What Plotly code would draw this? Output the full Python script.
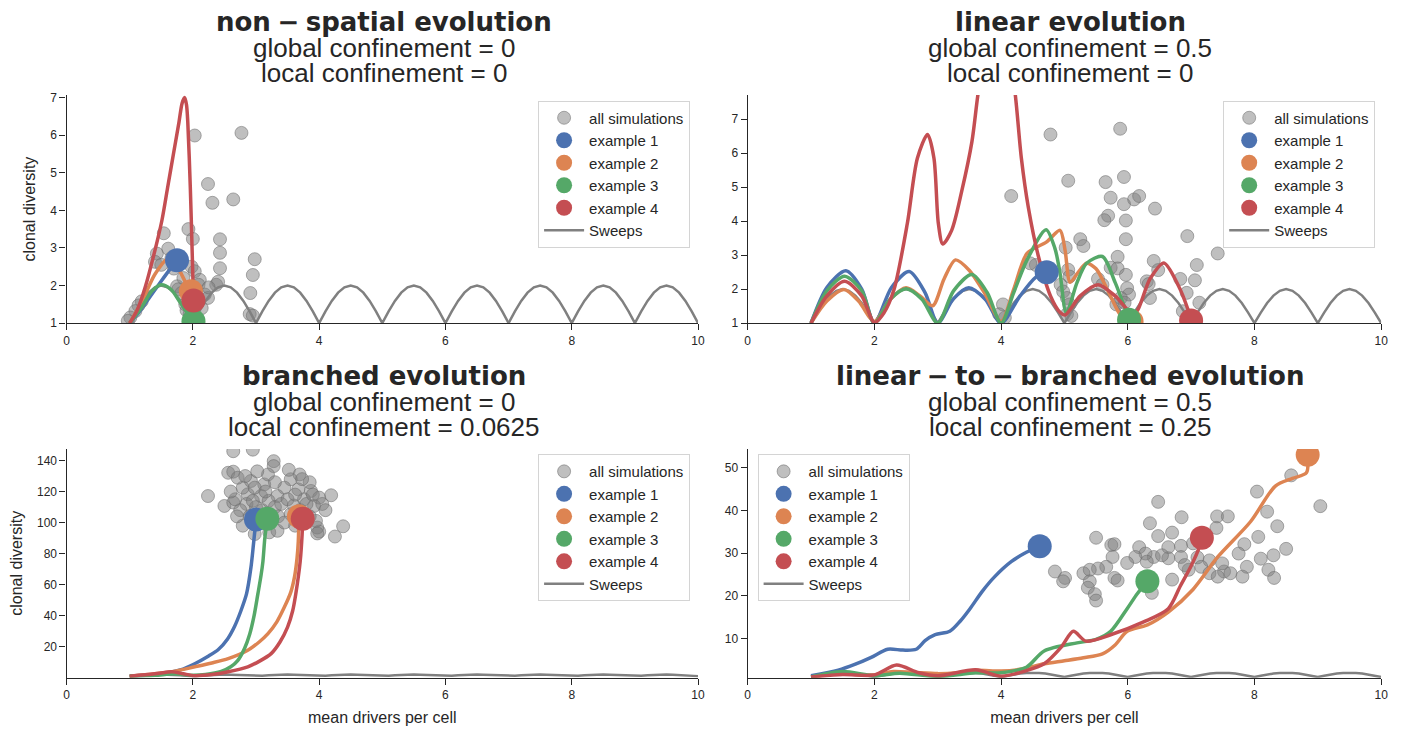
import plotly.graph_objects as go
from plotly.subplots import make_subplots

# ---------------- data ----------------
sweep_x = [1.0 + i * 0.1 for i in range(91)]
sweep_y = [
    1.00, 1.31, 1.59, 1.81, 1.95, 2.00, 1.95, 1.81, 1.59, 1.31,
    1.00, 1.31, 1.59, 1.81, 1.95, 2.00, 1.95, 1.81, 1.59, 1.31,
    1.00, 1.31, 1.59, 1.81, 1.95, 2.00, 1.95, 1.81, 1.59, 1.31,
    1.00, 1.31, 1.59, 1.81, 1.95, 2.00, 1.95, 1.81, 1.59, 1.31,
    1.00, 1.31, 1.59, 1.81, 1.95, 2.00, 1.95, 1.81, 1.59, 1.31,
    1.00, 1.31, 1.59, 1.81, 1.95, 2.00, 1.95, 1.81, 1.59, 1.31,
    1.00, 1.31, 1.59, 1.81, 1.95, 2.00, 1.95, 1.81, 1.59, 1.31,
    1.00, 1.31, 1.59, 1.81, 1.95, 2.00, 1.95, 1.81, 1.59, 1.31,
    1.00, 1.31, 1.59, 1.81, 1.95, 2.00, 1.95, 1.81, 1.59, 1.31,
    1.00,
]

SP = "\u2005"
titles = ["non" + SP + "−" + SP + "spatial evolution", "linear evolution",
          "branched evolution", "linear" + SP + "−" + SP + "to" + SP + "−" + SP + "branched evolution"]
global_conf = ["0", "0.5", "0", "0.5"]
local_conf = ["0", "0", "0.0625", "0.25"]

# --- panel 1: non-spatial ---
p1_sim_x = [2.03, 2.77, 2.24, 2.31, 2.64, 1.54, 1.93, 2.00, 2.43, 2.43, 2.43, 2.98, 2.95, 2.91, 2.90,
            2.95, 1.43, 1.40, 1.61, 1.66, 1.98, 2.03, 2.11, 2.09, 2.19, 2.24, 2.37, 2.40, 1.75, 1.77,
            1.82, 1.88, 1.90, 1.19, 1.14, 1.09, 1.01, 0.97, 2.14, 2.09, 1.95, 2.00, 1.50, 1.85, 2.25, 1.70]
p1_sim_y = [5.99, 6.06, 4.70, 4.20, 4.29, 3.39, 3.50, 3.24, 3.23, 2.87, 2.46, 2.70, 2.28, 1.80, 1.24,
            1.20, 2.85, 2.63, 2.98, 2.73, 2.50, 2.38, 2.15, 2.02, 1.76, 1.67, 2.02, 2.10, 1.98, 1.90,
            1.80, 1.50, 1.34, 1.58, 1.47, 1.32, 1.15, 1.06, 1.40, 1.58, 1.25, 1.10, 2.55, 2.20, 1.95, 2.45]
p1_ex1_x = [1.0, 1.15, 1.3, 1.45, 1.6, 1.75]
p1_ex1_y = [1.0, 1.3, 1.65, 2.0, 2.35, 2.67]
p1_ex2_x = [1.0, 1.2, 1.4, 1.6, 1.75, 1.88, 1.97]
p1_ex2_y = [1.0, 1.6, 2.3, 2.7, 2.5, 2.1, 1.85]
p1_ex3_x = [1.0, 1.2, 1.35, 1.5, 1.65, 1.8, 1.92, 2.01]
p1_ex3_y = [1.0, 1.45, 1.85, 2.02, 1.9, 1.55, 1.25, 1.05]
p1_ex4_x = [1.0, 1.12, 1.25, 1.38, 1.51, 1.6, 1.69, 1.78, 1.83, 1.87, 1.9, 1.92, 1.96, 1.99, 2.01]
p1_ex4_y = [1.0, 1.35, 1.98, 2.8, 3.73, 4.6, 5.47, 6.34, 6.85, 7.0, 6.8, 6.34, 4.6, 2.86, 1.6]

# --- panel 2: linear ---
p2_sim_x = [4.78, 5.88, 4.16, 5.06, 5.65, 5.94, 5.73, 6.10, 6.18, 5.94, 6.43, 5.69, 5.63, 5.97, 5.97,
            6.94, 7.42, 5.25, 5.30, 5.02, 5.84, 6.41, 7.09, 5.73, 5.84, 6.48, 5.97, 7.06, 6.83, 6.30,
            6.33, 5.53, 5.60, 4.55, 4.46, 5.06, 5.08, 5.99, 6.02, 6.93, 7.13, 5.82, 6.35, 4.94, 4.98,
            5.04, 5.08, 5.04, 5.11, 4.03, 4.06, 3.97, 6.87, 5.89, 5.95]
p2_sim_y = [6.55, 6.72, 4.74, 5.19, 5.15, 5.30, 4.69, 4.64, 4.74, 4.50, 4.37, 4.16, 4.03, 4.02, 3.47,
            3.56, 3.05, 3.47, 3.27, 3.22, 2.95, 2.83, 2.71, 2.63, 2.61, 2.56, 2.42, 2.26, 2.30, 2.23,
            2.15, 2.30, 2.13, 2.71, 2.76, 2.57, 2.37, 2.03, 1.84, 1.89, 1.60, 1.55, 1.74, 2.13, 1.93,
            1.74, 1.55, 1.26, 1.21, 1.55, 1.16, 1.26, 1.35, 1.74, 1.60]
p2_ex1_x = [1.0, 1.25, 1.55, 1.8, 2.0, 2.27, 2.55, 2.8, 3.0, 3.25, 3.49, 3.75, 4.0, 4.3, 4.55, 4.72]
p2_ex1_y = [1.0, 2.05, 2.54, 2.0, 1.0, 2.05, 2.52, 1.9, 1.0, 1.72, 2.04, 1.7, 1.0, 1.8, 2.35, 2.5]
p2_ex2_x = [1.0, 1.25, 1.52, 1.75, 2.0, 2.25, 2.5, 2.72, 2.92, 3.1, 3.28, 3.5, 3.75, 4.0, 4.2,
            4.41, 4.72, 4.93, 5.01, 5.09, 5.22, 5.35, 5.5, 5.7, 5.9, 6.06]
p2_ex2_y = [1.0, 1.65, 1.99, 1.65, 1.05, 1.7, 2.04, 1.8, 1.51, 2.3, 2.86, 2.55, 1.85, 1.05, 2.0,
            3.05, 3.39, 3.73, 3.15, 2.2, 2.5, 2.76, 2.6, 1.9, 1.2, 1.05]
p2_ex3_x = [1.0, 1.25, 1.53, 1.8, 2.0, 2.25, 2.5, 2.75, 3.0, 3.25, 3.54, 3.78, 4.0, 4.2, 4.41,
            4.71, 4.85, 4.93, 5.03, 5.2, 5.35, 5.6, 5.8, 6.02]
p2_ex3_y = [1.0, 1.95, 2.38, 1.95, 1.0, 1.7, 2.01, 1.7, 1.0, 1.95, 2.43, 1.9, 1.0, 1.9, 2.86,
            3.75, 3.2, 2.48, 1.3, 2.2, 2.76, 2.96, 2.2, 1.1]
p2_ex4_x = [1.0, 1.25, 1.53, 1.8, 2.0, 2.15, 2.31, 2.52, 2.68, 2.84, 2.94, 3.01, 3.08, 3.22, 3.38,
            3.54, 3.64, 3.8, 3.94, 4.08, 4.22, 4.32, 4.43, 4.59, 4.78, 4.93, 5.01, 5.25, 5.53, 5.8,
            6.1, 6.35, 6.57, 6.8, 6.95, 7.0]
p2_ex4_y = [1.0, 1.8, 2.23, 1.8, 1.02, 1.3, 1.99, 3.93, 5.86, 6.55, 5.86, 3.93, 3.33, 3.73, 4.89,
            6.34, 7.79, 9.5, 9.9, 9.5, 7.79, 5.86, 4.41, 2.96, 1.8, 1.32, 1.24, 1.8, 2.13, 1.8,
            1.26, 2.3, 2.77, 2.1, 1.4, 1.08]

# --- panel 3: branched ---
p3_sim_x = [2.64, 2.95, 3.28, 3.28, 2.56, 2.64, 2.24, 2.50, 2.64, 4.19, 4.38, 4.25, 4.00, 3.97, 3.69,
            3.55, 3.67, 3.87, 4.00, 3.76, 3.92, 3.45, 3.34, 3.13, 3.08, 2.87, 2.79, 2.71, 2.92, 2.98,
            3.19, 2.67, 2.79, 2.98, 3.21, 3.34, 3.55, 3.95, 3.97, 2.85, 3.00, 3.10, 3.20, 3.30, 3.40,
            3.50, 3.60, 3.70, 3.80, 3.90, 4.05, 2.75, 2.90, 3.05, 3.35, 3.45, 3.62, 3.85, 4.10, 2.60,
            2.83, 3.02, 3.52, 3.85, 3.73, 2.95, 3.15, 3.62, 3.30, 2.70]
p3_sim_y = [146.0, 147.0, 139.6, 136.4, 132.1, 132.8, 117.1, 110.7, 112.9, 117.6, 97.6, 91.0, 94.2, 96.8, 131.0,
            127.9, 121.4, 120.4, 116.1, 115.0, 110.7, 122.5, 117.1, 124.6, 117.1, 118.2, 122.5, 128.9, 126.8, 122.5,
            131.0, 115.0, 98.0, 92.6, 93.7, 94.7, 105.4, 101.1, 93.0, 112.0, 110.0, 108.0, 114.0, 110.0, 112.0,
            115.0, 111.0, 108.0, 112.0, 118.0, 112.0, 108.0, 104.0, 100.0, 104.0, 100.0, 98.0, 104.0, 108.0, 120.0,
            130.0, 133.0, 134.0, 126.0, 128.0, 114.0, 120.0, 118.0, 126.0, 104.0]
p3_ex1_x = [1.0, 1.5, 1.8, 2.03, 2.25, 2.4, 2.55, 2.66, 2.76, 2.85, 2.92, 2.96, 3.0]
p3_ex1_y = [1.0, 2.5, 5.0, 9.0, 14.0, 18.0, 25.0, 33.0, 43.0, 54.0, 71.0, 86.0, 102.0]
p3_ex2_x = [1.0, 1.67, 2.03, 2.3, 2.56, 2.87, 3.05, 3.19, 3.33, 3.45, 3.55, 3.61, 3.65, 3.67, 3.68]
p3_ex2_y = [1.0, 3.8, 7.0, 9.5, 12.3, 17.7, 23.0, 28.4, 36.0, 45.5, 55.0, 65.0, 77.0, 88.0, 104.0]
p3_ex3_x = [1.0, 1.4, 1.7, 2.0, 2.2, 2.45, 2.6, 2.71, 2.82, 2.9, 2.97, 3.03, 3.08, 3.11, 3.14, 3.18]
p3_ex3_y = [1.0, 1.5, 2.5, 1.5, 2.0, 4.0, 7.0, 11.0, 19.0, 28.0, 40.0, 54.0, 66.0, 75.0, 90.0, 102.5]
p3_ex4_x = [1.0, 1.4, 1.67, 1.85, 2.03, 2.3, 2.56, 2.87, 3.05, 3.24, 3.38, 3.5, 3.58, 3.63, 3.70, 3.73, 3.74]
p3_ex4_y = [1.0, 2.5, 3.8, 2.5, 1.3, 2.0, 3.8, 7.0, 10.5, 15.5, 23.0, 32.6, 43.0, 54.0, 75.0, 92.0, 102.5]

# --- panel 4: linear-to-branched ---
p4_sim_x = [8.58, 8.04, 9.04, 6.48, 8.20, 6.85, 7.41, 7.58, 6.35, 8.36, 7.40, 6.70, 6.48, 8.06, 7.84,
            7.03, 6.84, 6.64, 5.50, 5.74, 5.79, 6.18, 8.50, 8.30, 8.10, 7.75, 7.29, 7.10, 6.84, 6.64,
            6.41, 6.28, 6.12, 5.99, 5.76, 5.66, 5.53, 5.79, 5.84, 5.30, 5.40, 4.85, 5.01, 4.98, 5.40,
            5.37, 5.48, 5.50, 6.38, 6.70, 6.96, 7.16, 7.29, 7.52, 7.42, 7.62, 7.88, 7.81, 8.22, 8.31,
            6.54, 7.49, 6.90, 6.30]
p4_sim_y = [48.2, 44.4, 41.0, 42.0, 39.7, 38.4, 38.6, 38.6, 37.0, 36.3, 35.9, 34.8, 34.0, 33.8, 32.1,
            32.3, 31.7, 31.4, 33.6, 31.9, 32.1, 31.4, 31.0, 29.5, 28.7, 29.9, 28.3, 29.0, 29.1, 28.8,
            29.1, 29.9, 29.1, 27.7, 29.1, 26.8, 26.4, 24.2, 23.6, 25.3, 26.1, 25.7, 24.2, 23.4, 23.4,
            21.9, 20.4, 18.9, 20.7, 23.8, 26.1, 26.8, 25.3, 25.7, 24.5, 25.3, 26.8, 24.5, 26.1, 24.2,
            29.5, 27.6, 27.2, 28.0]
p4_ex1_x = [1.0, 1.43, 1.7, 1.95, 2.21, 2.45, 2.66, 2.8, 2.96, 3.19, 3.35, 3.51, 3.7, 3.9, 4.16, 4.4, 4.61]
p4_ex1_y = [1.3, 2.6, 4.0, 5.6, 7.5, 7.3, 7.5, 9.5, 10.9, 11.7, 14.0, 17.0, 21.0, 24.5, 28.0, 30.2, 31.6]
p4_ex2_x = [1.0, 1.43, 1.8, 2.0, 2.3, 2.6, 3.0, 3.3, 3.6, 4.0, 4.3, 4.68, 5.0, 5.3, 5.6, 5.8, 5.99,
            6.31, 6.64, 7.03, 7.42, 7.94, 8.33, 8.6, 8.82, 8.84]
p4_ex2_y = [1.0, 1.8, 1.5, 1.5, 2.3, 2.1, 1.8, 2.0, 2.6, 2.4, 2.8, 4.1, 4.8, 5.5, 6.4, 8.5, 11.7,
            13.2, 16.2, 21.5, 29.1, 37.4, 45.7, 47.5, 48.8, 53.0]
p4_ex3_x = [1.0, 1.5, 2.0, 2.4, 3.0, 3.6, 4.0, 4.4, 4.68, 5.2, 5.5, 5.73, 5.99, 6.15, 6.31]
p4_ex3_y = [1.0, 2.3, 1.3, 1.9, 1.1, 2.0, 2.0, 3.3, 7.1, 9.0, 9.8, 11.7, 17.0, 20.5, 23.4]
p4_ex4_x = [1.0, 1.5, 2.0, 2.35, 2.7, 3.0, 3.6, 4.0, 4.4, 4.68, 4.95, 5.14, 5.34, 5.73, 6.25, 6.64,
            6.83, 7.0, 7.13, 7.17]
p4_ex4_y = [1.0, 1.6, 1.5, 3.8, 2.0, 1.3, 2.7, 1.2, 2.5, 4.1, 8.0, 11.7, 9.4, 10.9, 13.9, 17.0,
            22.3, 27.0, 31.4, 33.6]

panels = [
    (p1_sim_x, p1_sim_y, [(p1_ex1_x, p1_ex1_y), (p1_ex2_x, p1_ex2_y), (p1_ex3_x, p1_ex3_y), (p1_ex4_x, p1_ex4_y)]),
    (p2_sim_x, p2_sim_y, [(p2_ex1_x, p2_ex1_y), (p2_ex2_x, p2_ex2_y), (p2_ex3_x, p2_ex3_y), (p2_ex4_x, p2_ex4_y)]),
    (p3_sim_x, p3_sim_y, [(p3_ex1_x, p3_ex1_y), (p3_ex2_x, p3_ex2_y), (p3_ex3_x, p3_ex3_y), (p3_ex4_x, p3_ex4_y)]),
    (p4_sim_x, p4_sim_y, [(p4_ex1_x, p4_ex1_y), (p4_ex2_x, p4_ex2_y), (p4_ex3_x, p4_ex3_y), (p4_ex4_x, p4_ex4_y)]),
]

example_names = ["example 1", "example 2", "example 3", "example 4"]
colors = ["#4C72B0", "#DD8452", "#55A868", "#C44E52"]

# ---------------- figure ----------------
W, H = 1410, 729
FONT = "Liberation Sans, Arial, sans-serif"
INK = "#262626"

fig = make_subplots(rows=2, cols=2)

legend_names = ["legend", "legend2", "legend3", "legend4"]
for i, (sx, sy, exs) in enumerate(panels):
    r, c = i // 2 + 1, i % 2 + 1
    lg = legend_names[i]
    fig.add_trace(go.Scatter(
        x=sx, y=sy, mode="markers", name="all simulations", legend=lg, legendrank=1,
        marker=dict(size=13, color="rgba(128,128,128,0.5)",
                    line=dict(color="rgba(110,110,110,0.55)", width=1))), row=r, col=c)
    fig.add_trace(go.Scatter(
        x=sweep_x, y=sweep_y, mode="lines", name="Sweeps", legend=lg, legendrank=6,
        line=dict(color="#808080", width=2.5)), row=r, col=c)
    for k, (ex_x, ex_y) in enumerate(exs):
        fig.add_trace(go.Scatter(
            x=ex_x, y=ex_y, mode="lines", showlegend=False, hoverinfo="skip",
            line=dict(color=colors[k], width=3.5, shape="spline", smoothing=0.8)), row=r, col=c)
    for k, (ex_x, ex_y) in enumerate(exs):
        fig.add_trace(go.Scatter(
            x=[ex_x[-1]], y=[ex_y[-1]], mode="markers", name=example_names[k],
            legend=lg, legendrank=2 + k,
            marker=dict(size=24, color=colors[k], line=dict(width=0))), row=r, col=c)

xl = [64 / W, 700 / W]
xr = [750 / W, 1388 / W]
ytop = [1 - 324 / H, 1 - 92.5 / H]
ybot = [1 - 684 / H, 1 - 451.7 / H]

axis_common = dict(showline=True, linecolor=INK, linewidth=1.25, ticks="outside", ticklen=6,
                   tickwidth=1.25, tickcolor=INK, showgrid=False, zeroline=False,
                   tickfont=dict(family=FONT, size=12, color=INK))
title_font = dict(family=FONT, size=16, color=INK)

xticks = [0, 2, 4, 6, 8, 10]
fig.update_layout(
    xaxis=dict(domain=xl, range=[0, 10], tickvals=xticks, **axis_common),
    xaxis2=dict(domain=xr, range=[0, 10], tickvals=xticks, **axis_common),
    xaxis3=dict(domain=xl, range=[0, 10], tickvals=xticks, title=dict(text="mean drivers per cell", font=title_font, standoff=10), **axis_common),
    xaxis4=dict(domain=xr, range=[0, 10], tickvals=xticks, title=dict(text="mean drivers per cell", font=title_font, standoff=10), **axis_common),
    yaxis=dict(domain=ytop, range=[1, 7.065], tickvals=[1, 2, 3, 4, 5, 6, 7], title=dict(text="clonal diversity", font=title_font, standoff=10), **axis_common),
    yaxis2=dict(domain=ytop, range=[1, 7.71], tickvals=[1, 2, 3, 4, 5, 6, 7], **axis_common),
    yaxis3=dict(domain=ybot, range=[0, 147.5], tickvals=[20, 40, 60, 80, 100, 120, 140], title=dict(text="clonal diversity", font=title_font, standoff=10), **axis_common),
    yaxis4=dict(domain=ybot, range=[0.85, 54.4], tickvals=[10, 20, 30, 40, 50], **axis_common),
)

leg_common = dict(bgcolor="rgba(255,255,255,0.8)", bordercolor="#d4d4d4", borderwidth=1,
                  font=dict(family=FONT, size=15, color=INK), itemsizing="trace", itemwidth=40,
                  tracegroupgap=0, yanchor="top")
fig.update_layout(
    legend=dict(x=692 / W, xanchor="right", y=1 - 98 / H, **leg_common),
    legend2=dict(x=1382 / W, xanchor="right", y=1 - 98 / H, **leg_common),
    legend3=dict(x=692 / W, xanchor="right", y=1 - 457 / H, **leg_common),
    legend4=dict(x=760 / W, xanchor="left", y=1 - 457 / H, **leg_common),
)

centers = [384 / W, 1075 / W, 384 / W, 1075 / W]
for i in range(4):
    dy = 0 if i < 2 else 359
    cx = centers[i]
    fig.add_annotation(x=cx, y=1 - (18.5 + dy) / H, xref="paper", yref="paper", showarrow=False,
                       xanchor="center", yanchor="middle", text="<b>" + titles[i] + "</b>",
                       font=dict(family="DejaVu Sans", size=26, color=INK))
    fig.add_annotation(x=cx, y=1 - (45.0 + dy) / H, xref="paper", yref="paper", showarrow=False,
                       xanchor="center", yanchor="middle", text="global confinement = " + global_conf[i],
                       font=dict(family=FONT, size=26, color=INK))
    fig.add_annotation(x=cx, y=1 - (70.0 + dy) / H, xref="paper", yref="paper", showarrow=False,
                       xanchor="center", yanchor="middle", text="local confinement = " + local_conf[i],
                       font=dict(family=FONT, size=26, color=INK))

fig.update_layout(width=W, height=H, margin=dict(l=0, r=0, t=0, b=0),
                  paper_bgcolor="white", plot_bgcolor="white", showlegend=True)

fig.write_html("out.html")
